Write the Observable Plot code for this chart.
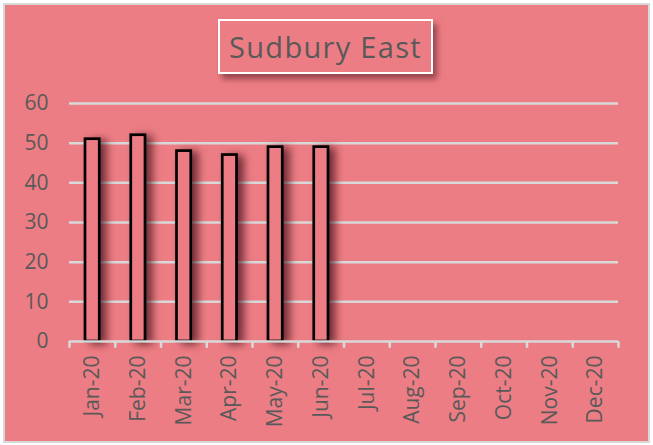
<!DOCTYPE html>
<html>
<head>
<meta charset="utf-8">
<script src="https://cdn.jsdelivr.net/npm/d3@7"></script>
<script src="https://cdn.jsdelivr.net/npm/@observablehq/plot@0.6"></script>
<style>
  html, body { margin: 0; padding: 0; background: #ffffff; }
  #frame { position: absolute; left: 3px; top: 3px; width: 643px; height: 436px;
           background: #ED7D84; border: 2px solid #d9d9d9; }
  #chart { position: absolute; left: 0; top: 0; }
  #title { position: absolute; left: 218px; top: 19px; width: 211px; height: 51px;
           border: 2px solid #ffffff; box-shadow: 4px 5px 6px rgba(80,20,30,0.55);
           font-family: "Open Sans", "Noto Sans", sans-serif; font-size: 29px; color: #595959;
           display: flex; align-items: center; justify-content: center; letter-spacing: 1.3px; }
  #chart svg g[aria-label="bar"] rect { filter: drop-shadow(6px 2px 4px rgba(60,10,20,0.7)); }
  #chart svg text { font-size: 21px; }
</style>
</head>
<body>
<div id="frame"></div>
<div id="chart"></div>
<div id="title">Sudbury East</div>
<script>
const months = ["Jan-20","Feb-20","Mar-20","Apr-20","May-20","Jun-20","Jul-20","Aug-20","Sep-20","Oct-20","Nov-20","Dec-20"];
const barMonths = ["Jan-20","Feb-20","Mar-20","Apr-20","May-20","Jun-20"];
const values = [51, 52, 48, 47, 49, 49];
const yTicks = [0, 10, 20, 30, 40, 50, 60];

const data = barMonths.map((m, i) => ({month: m, value: values[i]}));
const W = 653, H = 445, mL = 69, mR = 35;
const step = (W - mL - mR) / months.length;

const plot = Plot.plot({
  width: W, height: H,
  marginLeft: mL, marginRight: mR, marginTop: 103, marginBottom: 104,
  style: {background: "transparent", fontFamily: "'Open Sans', 'Noto Sans', sans-serif", fontSize: "21px", color: "#595959", overflow: "visible"},
  x: {domain: months, padding: 0, round: false, label: null},
  y: {domain: [0, 60], label: null},
  marks: [
    Plot.ruleY(yTicks.filter(d => d > 0), {stroke: "#d9d9d9", strokeWidth: 2.5}),
    Plot.axisY({ticks: yTicks, tickSize: 0, tickPadding: 21, fontSize: 21, fill: "#595959", label: null}),
    Plot.axisX({tickSize: 0, tickPadding: 14, tickRotate: -90, fontSize: 21, fill: "#595959", label: null}),
    Plot.barY(data, {x: "month", y: "value", fill: "#ED7D84", stroke: "#000000", strokeWidth: 2.7, insetLeft: 16, insetRight: 15.5}),
    Plot.ruleY([0], {stroke: "#d9d9d9", strokeWidth: 2.5}),
    Plot.ruleX(months, {x: d => d, dx: -step / 2, y1: 0, y2: -1.7, stroke: "#d9d9d9", strokeWidth: 2.5}),
    Plot.ruleX(months.slice(-1), {x: d => d, dx: step / 2, y1: 0, y2: -1.7, stroke: "#d9d9d9", strokeWidth: 2.5})
  ]
});
document.getElementById("chart").appendChild(plot);
</script>
</body>
</html>
